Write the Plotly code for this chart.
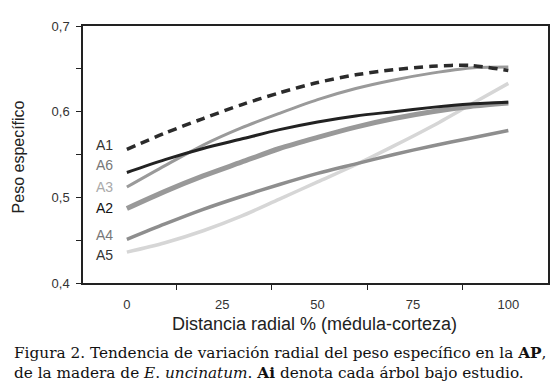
import plotly.graph_objects as go

# ---- data ----
x_pos = [0, 10, 20, 30, 40, 50, 60, 70, 80, 90, 100]
series_names = ["A1", "A6", "A3", "A2", "A4", "A5"]
A1 = [0.556, 0.575, 0.592, 0.608, 0.622, 0.634, 0.643, 0.649, 0.653, 0.654, 0.648]
A6 = [0.529, 0.544, 0.557, 0.568, 0.579, 0.588, 0.595, 0.600, 0.605, 0.609, 0.611]
A3 = [0.512, 0.537, 0.561, 0.581, 0.598, 0.614, 0.627, 0.637, 0.645, 0.651, 0.652]
A2 = [0.487, 0.507, 0.525, 0.541, 0.557, 0.570, 0.582, 0.592, 0.600, 0.606, 0.610]
A4 = [0.451, 0.469, 0.486, 0.501, 0.515, 0.528, 0.539, 0.550, 0.560, 0.569, 0.578]
A5 = [0.436, 0.447, 0.461, 0.478, 0.498, 0.518, 0.538, 0.560, 0.583, 0.608, 0.633]
label_y = [0.5616, 0.5372, 0.5120, 0.4872, 0.4558, 0.4326]

x_tick_vals = [0, 25, 50, 75, 100]
x_tick_text = ["0", "25", "50", "75", "100"]
x_minor_vals = [13, 38, 63, 88]
y_tick_vals = [0.4, 0.5, 0.6, 0.7]
y_tick_text = ["0,4", "0,5", "0,6", "0,7"]
y_minor_vals = [0.45, 0.55, 0.65]

x_title = "Distancia radial % (médula-corteza)"
y_title = "Peso específico"
caption_lines = [
    "Figura 2. Tendencia de variación radial del peso específico en la <b>AP</b>,",
    "de la madera de <i>E</i>. <i>uncinatum</i>. <b>Ai</b> denota cada árbol bajo estudio.",
]

# ---- styles ----
line_styles = {
    "A1": dict(color="#2b2b2b", width=3.5, dash="9px,6px"),
    "A6": dict(color="#222222", width=3),
    "A3": dict(color="#9a9a9a", width=3),
    "A2": dict(color="#999999", width=5),
    "A4": dict(color="#8e8e8e", width=3.5),
    "A5": dict(color="#d6d6d6", width=3.5),
}
label_colors = {"A1": "#333333", "A6": "#777777", "A3": "#aaaaaa",
                "A2": "#111111", "A4": "#777777", "A5": "#333333"}
data = {"A1": A1, "A6": A6, "A3": A3, "A2": A2, "A4": A4, "A5": A5}

FONT = "Liberation Sans, Arial, sans-serif"
SERIF = "DejaVu Serif, serif"

fig = go.Figure()
draw_order = ["A5", "A4", "A2", "A3", "A6", "A1"]
for name in draw_order:
    fig.add_trace(go.Scatter(x=x_pos, y=data[name], mode="lines", name=name,
                             line=dict(shape="spline", smoothing=0.8, **line_styles[name]),
                             showlegend=False, hoverinfo="skip"))

for name, ly in zip(series_names, label_y):
    fig.add_annotation(x=-3.2, y=ly, xref="x", yref="y", text=name, showarrow=False,
                       xanchor="right", yanchor="middle",
                       font=dict(family=FONT, size=14, color=label_colors[name]))

fig.add_annotation(x=0.497, y=-0.1595, xref="paper", yref="paper", text=x_title,
                   showarrow=False, xanchor="center", yanchor="middle",
                   font=dict(family=FONT, size=18, color="#222222"))
fig.add_annotation(x=-0.139, y=0.49, xref="paper", yref="paper", text=y_title,
                   showarrow=False, textangle=-90, xanchor="center", yanchor="middle",
                   borderpad=0,
                   font=dict(family=FONT, size=16, color="#222222"))
for text, cy in zip(caption_lines, [-0.2724, -0.3502]):
    fig.add_annotation(x=-0.152, y=cy, xref="paper", yref="paper", text=text,
                       showarrow=False, xanchor="left", yanchor="middle", align="left",
                       font=dict(family=SERIF, size=15.3, color="#111111"))

fig.update_layout(
    width=550, height=382,
    margin=dict(l=75, r=8, t=18, b=107),
    paper_bgcolor="white", plot_bgcolor="white",
    separators=",.",
    font=dict(family=FONT, size=13, color="#333333"),
)
fig.update_xaxes(range=[-11.5, 110.4], showgrid=False, zeroline=False,
                 showline=True, mirror=True, linecolor="#222222", linewidth=1.5,
                 tickvals=x_tick_vals, ticktext=x_tick_text, ticks="",
                 ticklabelstandoff=9,
                 tickfont=dict(family=FONT, size=13, color="#333333"),
                 minor=dict(tickvals=x_minor_vals, ticks="outside", ticklen=5,
                            tickcolor="#222222", tickwidth=1, showgrid=False))
fig.update_yaxes(range=[0.4, 0.7], showgrid=False, zeroline=False,
                 showline=True, mirror=True, linecolor="#222222", linewidth=1.5,
                 tickvals=y_tick_vals, ticktext=y_tick_text, ticks="outside",
                 ticklen=5, tickcolor="#222222", tickwidth=1, ticklabelstandoff=4,
                 tickfont=dict(family=FONT, size=13, color="#333333"),
                 minor=dict(tickvals=y_minor_vals, ticks="outside", ticklen=5,
                            tickcolor="#222222", tickwidth=1, showgrid=False))

fig.write_html("out.html")
